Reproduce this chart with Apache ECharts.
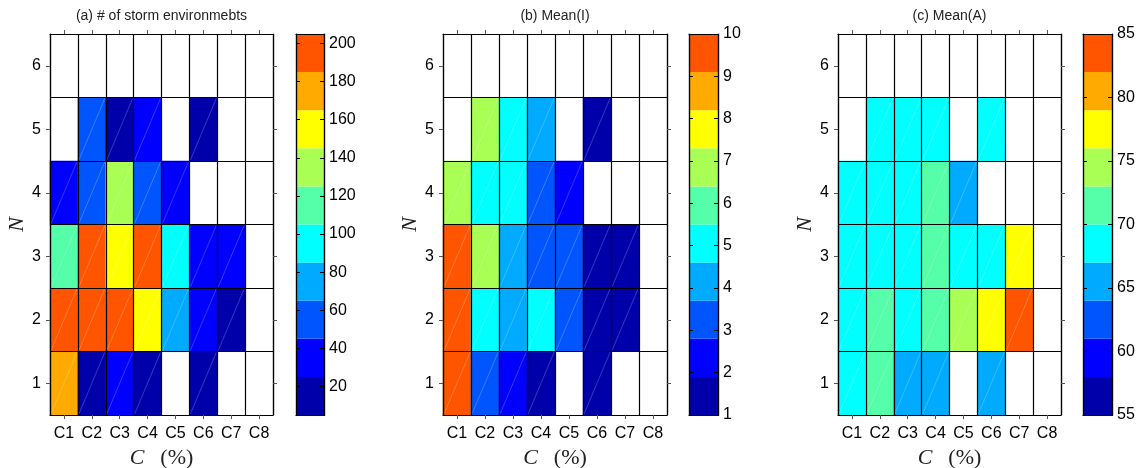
<!DOCTYPE html>
<html>
<head>
<meta charset="utf-8">
<script src="https://cdn.jsdelivr.net/npm/echarts@6/dist/echarts.min.js"></script>
<style>
html,body{margin:0;padding:0;background:#fff;}
#main{width:1139px;height:468px;}
</style>
</head>
<body>
<div id="main"></div>
<script>
// ---------------- data ----------------
const xCats = ['C1','C2','C3','C4','C5','C6','C7','C8'];
const yCats = ['1','2','3','4','5','6'];

// rows: N = 1..6, columns: C1..C8 (null = no data)
const countValues = [
  [175, 15, 32, 16, null, 12, null, null],
  [200, 198, 192, 158, 75, 38, 18, null],
  [115, 195, 155, 192, 95, 36, 33, null],
  [36, 55, 135, 57, 38, null, null, null],
  [null, 56, 14, 35, null, 12, null, null],
  [null, null, null, null, null, null, null, null]
];
const meanIValues = [
  [9.7, 3.2, 2.3, 1.6, null, 1.4, null, null],
  [9.5, 5.0, 4.2, 4.9, 3.2, 1.5, 1.6, null],
  [9.6, 6.8, 4.1, 3.3, 3.2, 1.6, 1.5, null],
  [6.9, 5.1, 5.0, 3.3, 2.4, null, null, null],
  [null, 6.8, 5.0, 4.2, null, 1.5, null, null],
  [null, null, null, null, null, null, null, null]
];
const meanAValues = [
  [68.5, 71.0, 66.0, 66.2, null, 65.8, null, null],
  [68.6, 70.8, 69.3, 71.4, 74.5, 77.8, 83.5, null],
  [68.5, 68.8, 69.0, 71.2, 69.2, 68.8, 77.5, null],
  [68.5, 68.8, 69.0, 71.0, 65.5, null, null, null],
  [null, 68.5, 68.5, 68.8, null, 68.2, null, null],
  [null, null, null, null, null, null, null, null]
];

const countRange = [5, 205];
const meanIRange = [1, 10];
const meanARange = [55, 85];

const countTicks = [20, 40, 60, 80, 100, 120, 140, 160, 180, 200];
const meanITicks = [1, 2, 3, 4, 5, 6, 7, 8, 9, 10];
const meanATicks = [55, 60, 65, 70, 75, 80, 85];

const panelTitles = ['(a) # of storm environmebts', '(b) Mean(I)', '(c) Mean(A)'];

const jet10 = ['#0000AA','#0000FF','#0055FF','#00AAFF','#00FFFF','#55FFAA','#AAFF55','#FFFF00','#FFAA00','#FF5500'];

// ---------------- layout ----------------
const TOP = 34, HEIGHT = 381;
const layouts = [
  {gridLeft: 50,  gridWidth: 223, cbLeft: 296,  cbWidth: 28},
  {gridLeft: 443, gridWidth: 224, cbLeft: 689,  cbWidth: 29},
  {gridLeft: 838, gridWidth: 223, cbLeft: 1083, cbWidth: 29}
];
const panels = [
  {values: countValues, range: countRange, ticks: countTicks},
  {values: meanIValues, range: meanIRange, ticks: meanITicks},
  {values: meanAValues, range: meanARange, ticks: meanATicks}
];

const SANS = 'Liberation Sans, Arial, Helvetica, sans-serif';
const SERIF = 'Liberation Serif, Times New Roman, serif';

function bandsFor(range) {
  const step = (range[1] - range[0]) / 10;
  return jet10.map((c, k) => ({lo: range[0] + k * step, hi: range[0] + (k + 1) * step, k: k}));
}

const grid = [], xAxis = [], yAxis = [], series = [], visualMap = [], graphic = [];

panels.forEach((p, i) => {
  const L = layouts[i];
  const gHeat = grid.length;
  grid.push({left: L.gridLeft, top: TOP, width: L.gridWidth, height: HEIGHT, containLabel: false, outerBoundsMode: 'none'});
  const gBar = grid.length;
  grid.push({left: L.cbLeft, top: TOP, width: L.cbWidth, height: HEIGHT, containLabel: false, outerBoundsMode: 'none'});

  const tickStyle = {show: true, alignWithLabel: true, inside: false, length: 4, lineStyle: {color: '#555', width: 1}};
  const lineStyle = {show: true, onZero: false, lineStyle: {color: '#000', width: 1.2}};
  const splitStyle = {show: true, interval: 0, lineStyle: {color: '#000', width: 1.2}};

  const xBottom = xAxis.length;
  xAxis.push({
    type: 'category', gridIndex: gHeat, data: xCats, position: 'bottom', z: 10,
    axisLine: lineStyle, axisTick: tickStyle,
    axisLabel: {interval: 0, color: '#000', fontSize: 16, fontFamily: SANS, margin: 11},
    splitLine: splitStyle,
    name: '{i|C}{u|(%)}', nameLocation: 'middle', nameGap: 31,
    nameTextStyle: {
      rich: {
        i: {fontFamily: SERIF, fontStyle: 'italic', fontSize: 22, color: '#222'},
        u: {fontFamily: SERIF, fontSize: 22, color: '#222', padding: [0, 0, 0, 16]}
      }
    }
  });
  xAxis.push({
    type: 'category', gridIndex: gHeat, data: xCats, position: 'top', z: 10,
    axisLine: lineStyle, axisTick: tickStyle, axisLabel: {show: false}, splitLine: {show: false}
  });
  const yLeft = yAxis.length;
  yAxis.push({
    type: 'category', gridIndex: gHeat, data: yCats, position: 'left', z: 10,
    axisLine: lineStyle, axisTick: tickStyle,
    axisLabel: {interval: 0, color: '#000', fontSize: 16, fontFamily: SANS, margin: 9},
    splitLine: splitStyle,
    name: 'N', nameLocation: 'middle', nameGap: 17, nameRotate: 90,
    nameTextStyle: {fontFamily: SERIF, fontStyle: 'italic', fontSize: 22, color: '#222'}
  });
  yAxis.push({
    type: 'category', gridIndex: gHeat, data: yCats, position: 'right', z: 10,
    axisLine: lineStyle, axisTick: tickStyle, axisLabel: {show: false}, splitLine: {show: false}
  });

  // colorbar axes
  const cbX = xAxis.length;
  xAxis.push({type: 'value', gridIndex: gBar, min: 0, max: 1, position: 'bottom', z: 10,
    axisLine: lineStyle, axisTick: {show: false}, axisLabel: {show: false}, splitLine: {show: false}});
  xAxis.push({type: 'value', gridIndex: gBar, min: 0, max: 1, position: 'top', z: 10,
    axisLine: lineStyle, axisTick: {show: false}, axisLabel: {show: false}, splitLine: {show: false}});
  const cbY = yAxis.length;
  yAxis.push({type: 'value', gridIndex: gBar, min: p.range[0], max: p.range[1], position: 'right', z: 10,
    axisLine: lineStyle,
    axisTick: {show: true, inside: true, length: 4, customValues: p.ticks, lineStyle: {color: '#000'}},
    axisLabel: {show: true, customValues: p.ticks, color: '#000', fontSize: 16, fontFamily: SANS, margin: 5},
    splitLine: {show: false}});
  yAxis.push({type: 'value', gridIndex: gBar, min: p.range[0], max: p.range[1], position: 'left', z: 10,
    axisLine: lineStyle,
    axisTick: {show: true, inside: true, length: 4, customValues: p.ticks, lineStyle: {color: '#000'}},
    axisLabel: {show: false}, splitLine: {show: false}});

  // heatmap data
  const cells = [];
  p.values.forEach((row, yi) => row.forEach((v, xi) => { if (v !== null) cells.push([xi, yi, v]); }));

  const heatIdx = series.length;
  series.push({
    type: 'heatmap', xAxisIndex: xBottom, yAxisIndex: yLeft, data: cells,
    itemStyle: {borderColor: '#000', borderWidth: 0},
    emphasis: {disabled: true}, progressive: 0, animation: false
  });
  // faint rendering diagonals in coloured cells
  series.push({
    type: 'custom', xAxisIndex: xBottom, yAxisIndex: yLeft, data: cells, silent: true, z: 3,
    renderItem: function (params, api) {
      const c = api.coord([api.value(0), api.value(1)]);
      const s = api.size([1, 1]);
      return {type: 'line', shape: {x1: c[0] - s[0] / 2 + 1, y1: c[1] + s[1] / 2 - 1, x2: c[0] + s[0] / 2 - 1, y2: c[1] - s[1] / 2 + 1},
        style: {stroke: 'rgba(255,255,255,0.28)', lineWidth: 0.8}};
    }
  });
  // colorbar
  const bands = bandsFor(p.range);
  series.push({
    type: 'custom', xAxisIndex: cbX, yAxisIndex: cbY, silent: true, z: 1,
    data: bands.map(b => [b.lo, b.hi, b.k]),
    encode: {y: [0, 1]},
    renderItem: function (params, api) {
      const lo = api.value(0), hi = api.value(1), k = api.value(2);
      const p1 = api.coord([0, lo]);
      const p2 = api.coord([1, hi]);
      return {type: 'rect', shape: {x: p1[0], y: p2[1], width: p2[0] - p1[0], height: p1[1] - p2[1]},
        style: {fill: jet10[k], stroke: null}};
    }
  });

  visualMap.push({
    type: 'piecewise', show: false, seriesIndex: heatIdx, dimension: 2,
    pieces: bands.map((b, k) => k === 9 ? {gte: b.lo, lte: b.hi + 1e-9, color: jet10[k]} : {gte: b.lo, lt: b.hi, color: jet10[k]})
  });

  graphic.push({
    type: 'text', x: L.gridLeft + L.gridWidth / 2, y: 16,
    style: {text: panelTitles[i], fill: '#222', font: '14px ' + SANS, textAlign: 'center', textVerticalAlign: 'middle'}
  });
  // colorbar frame
  graphic.push({
    type: 'rect', z: 100, silent: true,
    shape: {x: L.cbLeft + 0.5, y: TOP + 0.5, width: L.cbWidth, height: HEIGHT},
    style: {fill: null, stroke: '#000', lineWidth: 1.2}
  });
});

const chart = echarts.init(document.getElementById('main'), null, {renderer: 'canvas'});
chart.setOption({
  animation: false,
  backgroundColor: '#fff',
  grid, xAxis, yAxis, series, visualMap, graphic
});
</script>
</body>
</html>
